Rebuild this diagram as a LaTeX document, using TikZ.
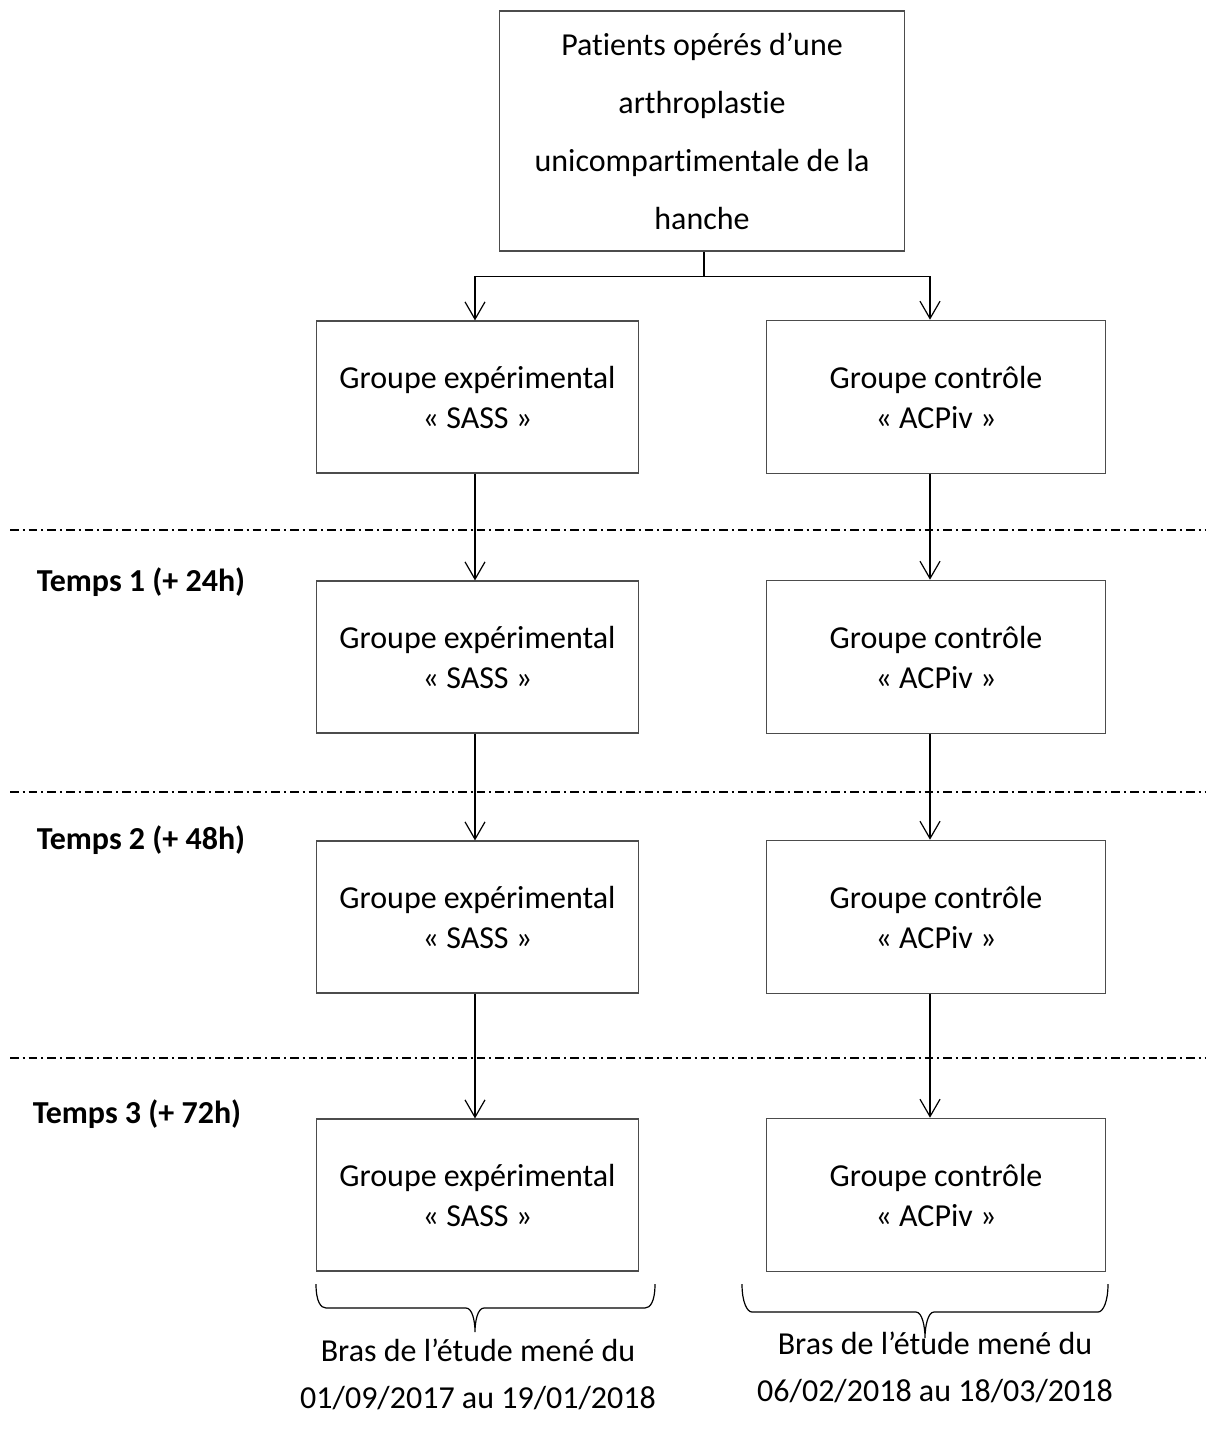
\documentclass[tikz,border=0pt]{standalone}
\usepackage{fontspec}
\setmainfont{Carlito}[Ligatures=NoCommon]
\usetikzlibrary{arrows.meta,positioning,calc}

\begin{document}
\begin{tikzpicture}[
  x=0.375pt, y=-0.375pt,
  groupbox/.style={draw=black!70, line width=0.45pt, align=center,
    font=\fontsize{12}{15}\selectfont, inner sep=0pt},
  sassbox/.style={groupbox, minimum width=121pt, minimum height=57pt},
  acpbox/.style={groupbox, minimum width=127pt, minimum height=57.5pt},
  arr/.style={-{Straight Barb[length=6.5pt,width=7.5pt]}, line width=0.45pt},
  sep/.style={line width=0.45pt, dash pattern=on 3.2pt off 1.5pt on 0.8pt off 1.5pt},
  temps/.style={font=\fontsize{12}{14}\selectfont\bfseries},
  bras/.style={font=\fontsize{12}{17.6}\selectfont, align=center},
  accol/.style={line width=0.45pt}
]
\useasboundingbox (0,0) rectangle (1209,1434);

% patients
\node[groupbox, minimum width=152pt, minimum height=90pt,
  font=\fontsize{12}{21.75}\selectfont] (patients) at (702,131)
  {Patients opérés d’une\\arthroplastie\\unicompartimentale de la\\hanche};

% groupes
\foreach \i/\y in {1/397,2/657,3/917,4/1195}{
  \node[sassbox] (sass\i) at (477.5,\y) {Groupe expérimental\\« SASS »};
  \node[acpbox] (acpiv\i) at (936,\y) {Groupe contrôle\\« ACPiv »};
}
\coordinate (colL) at (475,0);
\coordinate (colR) at (930,0);

% repartition
\coordinate (split) at ($(patients.south)+(2,25)$);
\draw[line width=0.45pt] (patients.south -| split) -- (split);
\draw[arr] (split) -| (sass1.north -| colL);
\draw[arr] (split) -| (acpiv1.north -| colR);

\foreach \i/\j in {1/2,2/3,3/4}{
  \draw[arr] (sass\i.south -| colL) -- (sass\j.north -| colL);
  \draw[arr] (acpiv\i.south -| colR) -- (acpiv\j.north -| colR);
}

% temps
\foreach \y in {530,792,1058}{
  \coordinate (sepL) at (10,\y);
  \coordinate (sepR) at (1205,\y);
  \draw[sep] (sepL) -- (sepR);
}
\node[temps] (t1) at (141,582) {Temps 1 (+ 24h)};
\node[temps] (t2) at (141,840) {Temps 2 (+ 48h)};
\node[temps] (t3) at (137,1114) {Temps 3 (+ 72h)};

% bras (accolades)
\coordinate (accL1) at (316,1284);
\coordinate (accL2) at (655,1284);
\coordinate (midL) at (475,1308);
\coordinate (tipL) at (475,1332);
\coordinate (accR1) at (742,1284);
\coordinate (accR2) at (1108,1284);
\coordinate (midR) at (925,1312);
\coordinate (tipR) at (925,1338);
\foreach \a/\b/\m/\t in {accL1/accL2/midL/tipL, accR1/accR2/midR/tipR}{
  \draw[accol] (\a) .. controls +(0,18) and +(-5,0) .. ($(\a |- \m)+(10,0)$)
    -- ($(\m)+(-9,0)$)
    .. controls +(6,0) and +(0,-12) .. (\t)
    .. controls +(0,-12) and +(-6,0) .. ($(\m)+(9,0)$)
    -- ($(\b |- \m)+(-10,0)$)
    .. controls +(5,0) and +(0,18) .. (\b);
}
\node[bras] (brasL) at (478,1374) {Bras de l’étude mené du\\01/09/2017 au 19/01/2018};
\node[bras] (brasR) at (935,1367) {Bras de l’étude mené du\\06/02/2018 au 18/03/2018};
\end{tikzpicture}
\end{document}
